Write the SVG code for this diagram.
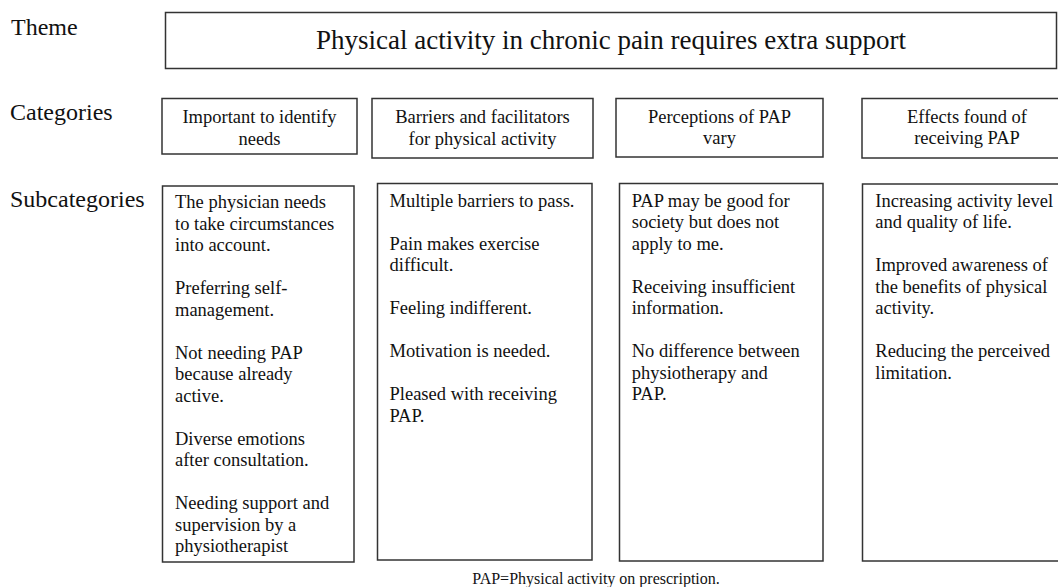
<svg xmlns="http://www.w3.org/2000/svg" width="1058" height="587" viewBox="0 0 1058 587">
<style>
  .box { fill: #ffffff; stroke: #333333; stroke-width: 1.5; }
  .lbl { font-family: "Liberation Serif", "Times New Roman", serif; font-size: 24px; fill: #111111; }
  .theme { font-family: "Liberation Serif", "Times New Roman", serif; font-size: 27px; fill: #111111; text-anchor: middle; }
  .cat { font-family: "Liberation Serif", "Times New Roman", serif; font-size: 18.5px; fill: #111111; text-anchor: middle; }
  .sub { font-family: "Liberation Serif", "Times New Roman", serif; font-size: 18.5px; fill: #111111; }
  .cap { font-family: "Liberation Serif", "Times New Roman", serif; font-size: 16px; fill: #111111; text-anchor: middle; }
</style>
<rect width="1058" height="587" fill="#ffffff"/>

<g id="row-labels">
  <text class="lbl" x="11" y="35">Theme</text>
  <text class="lbl" x="10" y="120">Categories</text>
  <text class="lbl" x="10" y="207">Subcategories</text>
</g>

<g id="theme">
  <rect class="box" x="165.5" y="12.5" width="891" height="56"/>
  <text class="theme" x="611" y="49">Physical activity in chronic pain requires extra support</text>
</g>

<g id="cat1">
  <rect class="box" x="162" y="98.5" width="195" height="55.5"/>
  <text class="cat" x="259.5" y="123.3">Important to identify</text>
  <text class="cat" x="259.5" y="144.5">needs</text>
</g>
<g id="cat2">
  <rect class="box" x="372" y="98.5" width="221" height="59.5"/>
  <text class="cat" x="482.5" y="123.3">Barriers and facilitators</text>
  <text class="cat" x="482.5" y="144.5">for physical activity</text>
</g>
<g id="cat3">
  <rect class="box" x="616" y="98.5" width="207" height="58.5"/>
  <text class="cat" x="719.5" y="122.5">Perceptions of PAP</text>
  <text class="cat" x="719.5" y="143.8">vary</text>
</g>
<g id="cat4">
  <rect class="box" x="862" y="98.5" width="210" height="59.5"/>
  <text class="cat" x="967" y="122.5">Effects found of</text>
  <text class="cat" x="967" y="143.8">receiving PAP</text>
</g>

<g id="sub1">
  <rect class="box" x="162.5" y="186" width="191.5" height="376"/>
  <text class="sub" x="175" y="208">
    <tspan x="175" y="208">The physician needs</tspan>
    <tspan x="175" y="229.5">to take circumstances</tspan>
    <tspan x="175" y="251">into account.</tspan>
    <tspan x="175" y="294">Preferring self-</tspan>
    <tspan x="175" y="315.5">management.</tspan>
    <tspan x="175" y="358.5">Not needing PAP</tspan>
    <tspan x="175" y="380">because already</tspan>
    <tspan x="175" y="401.5">active.</tspan>
    <tspan x="175" y="444.5">Diverse emotions</tspan>
    <tspan x="175" y="466">after consultation.</tspan>
    <tspan x="175" y="509">Needing support and</tspan>
    <tspan x="175" y="530.5">supervision by a</tspan>
    <tspan x="175" y="552">physiotherapist</tspan>
  </text>
</g>
<g id="sub2">
  <rect class="box" x="377.5" y="183.5" width="214.5" height="376.5"/>
  <text class="sub" x="389.5" y="206.7">
    <tspan x="389.5" y="206.7">Multiple barriers to pass.</tspan>
    <tspan x="389.5" y="249.7">Pain makes exercise</tspan>
    <tspan x="389.5" y="271.2">difficult.</tspan>
    <tspan x="389.5" y="314.2">Feeling indifferent.</tspan>
    <tspan x="389.5" y="357.2">Motivation is needed.</tspan>
    <tspan x="389.5" y="400.2">Pleased with receiving</tspan>
    <tspan x="389.5" y="421.7">PAP.</tspan>
  </text>
</g>
<g id="sub3">
  <rect class="box" x="619.5" y="183.5" width="203.5" height="377.5"/>
  <text class="sub" x="631.7" y="206.7">
    <tspan x="631.7" y="206.7">PAP may be good for</tspan>
    <tspan x="631.7" y="228.2">society but does not</tspan>
    <tspan x="631.7" y="249.7">apply to me.</tspan>
    <tspan x="631.7" y="292.7">Receiving insufficient</tspan>
    <tspan x="631.7" y="314.2">information.</tspan>
    <tspan x="631.7" y="357.2">No difference between</tspan>
    <tspan x="631.7" y="378.7">physiotherapy and</tspan>
    <tspan x="631.7" y="400.2">PAP.</tspan>
  </text>
</g>
<g id="sub4">
  <rect class="box" x="862.5" y="184" width="210" height="377"/>
  <text class="sub" x="875.3" y="206.7">
    <tspan x="875.3" y="206.7">Increasing activity level</tspan>
    <tspan x="875.3" y="228.2">and quality of life.</tspan>
    <tspan x="875.3" y="271.2">Improved awareness of</tspan>
    <tspan x="875.3" y="292.7">the benefits of physical</tspan>
    <tspan x="875.3" y="314.2">activity.</tspan>
    <tspan x="875.3" y="357.2">Reducing the perceived</tspan>
    <tspan x="875.3" y="378.7">limitation.</tspan>
  </text>
</g>

<g id="connectors"></g>

<g id="caption">
  <text class="cap" x="596" y="584">PAP=Physical activity on prescription.</text>
</g>
</svg>
